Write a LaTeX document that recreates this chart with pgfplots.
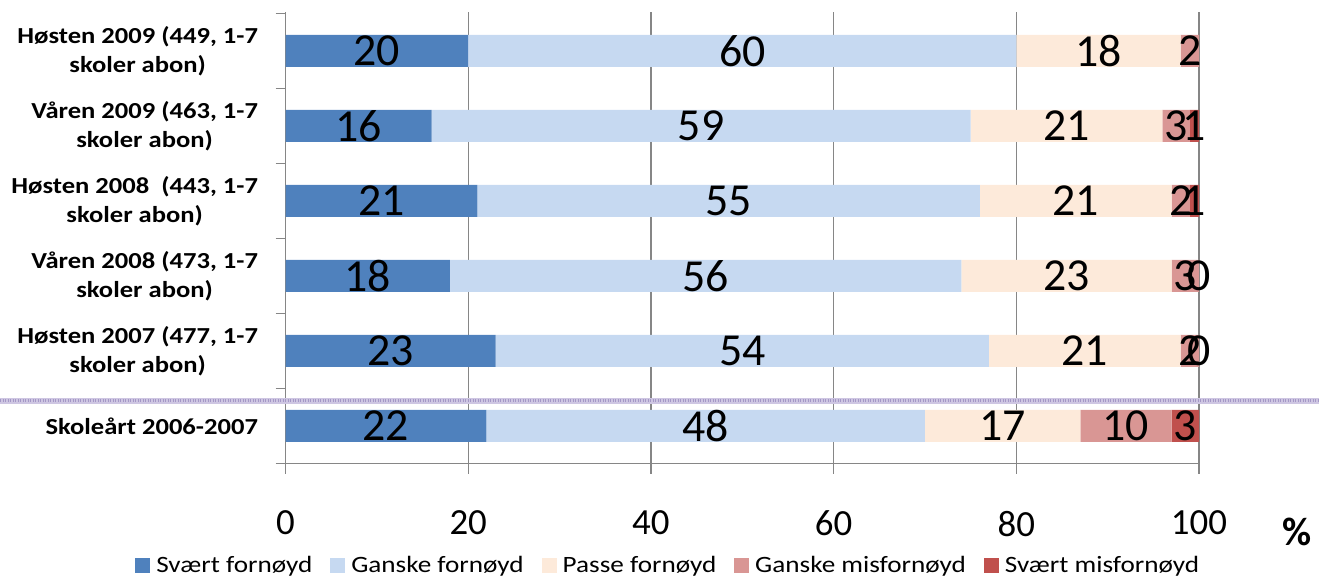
\documentclass[border=0pt]{standalone}
\usepackage{pgfplots}
\usepackage{pgfplotstable}
\pgfplotsset{compat=1.18}
\usepackage{fontspec}
\setmainfont{Carlito}
\newfontfamily\widefont[FakeStretch=1.16]{Carlito}

\definecolor{svfor}{HTML}{4F81BD}
\definecolor{gafor}{HTML}{C6D9F1}
\definecolor{pafor}{HTML}{FDEADA}
\definecolor{gamis}{HTML}{D99694}
\definecolor{svmis}{HTML}{C0504D}
\definecolor{gridgray}{HTML}{868686}
\definecolor{seplight}{RGB}{206,198,226}
\definecolor{sepdark}{RGB}{164,152,198}

% y: row position (top row = 5); a..e: share in each answer category (%)
\pgfplotstableread{
y a  b  c  d  e
5 20 60 18 2  0
4 16 59 21 3  1
3 21 55 21 2  1
2 18 56 23 3  0
1 23 54 21 2  0
0 22 48 17 10 3
}\data
% centre of each segment, for the value labels
\pgfplotstablecreatecol[create col/expr={\thisrow{a}/2}]{ma}\data
\pgfplotstablecreatecol[create col/expr={\thisrow{a}+\thisrow{b}/2}]{mb}\data
\pgfplotstablecreatecol[create col/expr={\thisrow{a}+\thisrow{b}+\thisrow{c}/2}]{mc}\data
\pgfplotstablecreatecol[create col/expr={\thisrow{a}+\thisrow{b}+\thisrow{c}+\thisrow{d}/2}]{md}\data
\pgfplotstablecreatecol[create col/expr={\thisrow{a}+\thisrow{b}+\thisrow{c}+\thisrow{d}+\thisrow{e}/2}]{me}\data

\pgfplotsset{
  frame/.style={
    at={(285.5bp,114.5bp)}, anchor=south west,
    scale only axis, width=913.5bp, height=451.5bp,
    xmin=0, xmax=100, ymin=-0.5, ymax=5.52,
  },
  vlabel/.style={
    draw=none, mark=none, nodes near coords,
    point meta=explicit symbolic,
    every node near coord/.style={anchor=center, text=black, inner sep=0pt,
      font=\fontsize{46}{46}\selectfont},
  },
}

\begin{document}
\begin{tikzpicture}
\begin{axis}[
  frame,
  xbar stacked, bar width=32bp,
  axis x line*=bottom, axis y line*=left,
  axis line style={gridgray, line width=1.3bp},
  xtick={0,20,...,100},
  xmajorgrids, grid style={gridgray, line width=1.3bp},
  tick align=outside,
  major tick length=10bp,
  tick style={gridgray, line width=1.3bp},
  xticklabel style={font=\fontsize{37}{37}\selectfont, anchor=north, yshift=-34bp},
  /pgf/number format/assume math mode=true,
  ytick={-0.5,0.5,...,5.5}, yticklabels={},
  extra y ticks={0,1,2,3,4,5},
  extra y tick labels={
    Skoleårt 2006-2007,
    {Høsten 2007 (477, 1-7\\skoler abon)},
    {Våren 2008 (473, 1-7\\skoler abon)},
    {Høsten 2008\ \ (443, 1-7\\skoler abon)},
    {Våren 2009 (463, 1-7\\skoler abon)},
    {Høsten 2009 (449, 1-7\\skoler abon)}},
  extra y tick style={
    major tick length=0pt,
    yticklabel style={align=center, anchor=east, xshift=-24bp,
      font=\widefont\bfseries\fontsize{23}{29}\selectfont},
  },
  x axis line style={shorten <=-8bp},
  legend style={at={(0.419,-0.226)}, anchor=center, draw=none,
    legend columns=5, font=\widefont\fontsize{23.5}{24}\selectfont,
    /tikz/every odd column/.append style={column sep=4bp},
    /tikz/every even column/.append style={column sep=16bp}},
  legend image code/.code={\fill[#1, draw=none] (0bp,-7.5bp) rectangle (15bp,7.5bp);},
]
\addplot[fill=svfor, draw=none] table[x=a, y=y] {\data};
\addplot[fill=gafor, draw=none] table[x=b, y=y] {\data};
\addplot[fill=pafor, draw=none] table[x=c, y=y] {\data};
\addplot[fill=gamis, draw=none] table[x=d, y=y] {\data};
\addplot[fill=svmis, draw=none] table[x=e, y=y] {\data};
\legend{Svært fornøyd, Ganske fornøyd, Passe fornøyd, Ganske misfornøyd, Svært misfornøyd}
\end{axis}

\begin{axis}[frame, hide axis]
\addplot[vlabel] table[x=ma, y=y, meta=a] {\data};
\addplot[vlabel] table[x=mb, y=y, meta=b] {\data};
\addplot[vlabel] table[x=mc, y=y, meta=c] {\data};
\addplot[vlabel] table[x=md, y=y, meta=d] {\data};
\addplot[vlabel, skip coords between index={0}{1}] table[x=me, y=y, meta=e] {\data};
\end{axis}

% separator between the half-year surveys and the school-year total
\draw[seplight, line width=5.5bp] (0bp,177bp) -- (1319bp,177bp);
\draw[sepdark, line width=3bp, dash pattern=on 1.2bp off 1.3bp] (0bp,177bp) -- (1319bp,177bp);

\node[font=\bfseries\fontsize{40}{40}\selectfont] at (1297bp,46bp) {\%};

\pgfresetboundingbox
\path[use as bounding box] (0bp,0bp) rectangle (1319bp,578bp);
\end{tikzpicture}
\end{document}
